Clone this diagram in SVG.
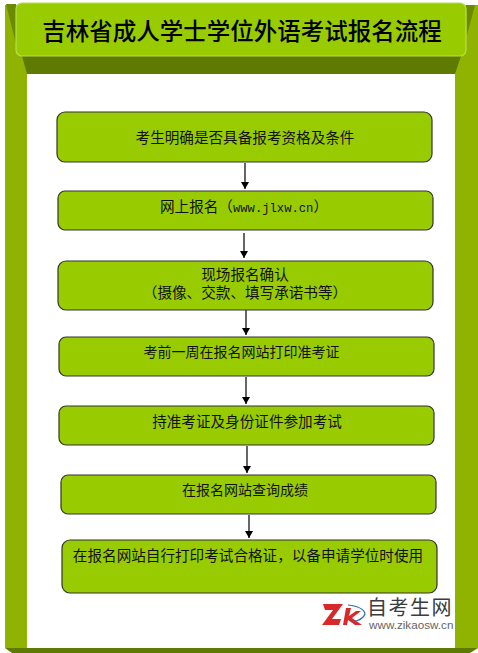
<svg xmlns="http://www.w3.org/2000/svg" width="478" height="653" viewBox="0 0 478 653">
<style>
.box{fill:#99cc00;stroke:#333;stroke-width:1.2}
.t{font-family:"Noto Sans CJK SC","Liberation Sans",sans-serif;font-size:14.6px;fill:#111;text-anchor:middle}
.s{font-size:14px}
.m{font-family:"Liberation Mono",monospace;font-size:12.2px}
.c{stroke:#000;stroke-width:1.2;fill:none;marker-end:url(#a)}
</style>
<defs><marker id="a" markerUnits="userSpaceOnUse" markerWidth="8" markerHeight="8" refX="7" refY="4" orient="auto"><path d="M0 0L7 4L0 8Z" fill="#000"/></marker></defs>
<rect width="478" height="653" fill="#fff"/>
<g id="frame">
<rect x="5" y="5" width="22" height="643" fill="#8fb300"/>
<rect x="455" y="5" width="23" height="643" fill="#8fb300"/>
<path d="M5 648H478L470 653H12Z" fill="#5f7a00"/>
<path d="M6 4H16V44Z" fill="#6b8a00"/>
<path d="M466 5H475L467 35Z" fill="#6b8a00"/>
<path d="M22 56H461L455 74H27Z" fill="#5f7a00"/>
</g>
<g id="title">
<rect x="16" y="3" width="450" height="53" rx="6" fill="#99cc00" stroke="#b9dc50" stroke-width="1.2"/>
<text x="242" y="40" style="font-family:'Noto Sans CJK SC',sans-serif;font-size:23.5px;font-weight:500;fill:#000;text-anchor:middle">吉林省成人学士学位外语考试报名流程</text>
</g>
<g id="connectors">
<path class="c" d="M245 163V189"/>
<path class="c" d="M244 233V258"/>
<path class="c" d="M246 308V335"/>
<path class="c" d="M246 377V404"/>
<path class="c" d="M247 446V473"/>
<path class="c" d="M249 515V538"/>
</g>
<g id="n1"><rect class="box" x="57" y="112" width="375" height="50" rx="8"/><text class="t" x="245" y="143">考生明确是否具备报考资格及条件</text></g>
<g id="n2"><rect class="box" x="58" y="191" width="375" height="39" rx="7"/><text class="t" x="244" y="212">网上报名（<tspan class="m">www.jlxw.cn</tspan>）</text></g>
<g id="n3"><rect class="box" x="58" y="261" width="375" height="49" rx="8"/><text class="t" x="245" y="280">现场报名确认</text><text class="t" x="245" y="298">（摄像、交款、填写承诺书等）</text></g>
<g id="n4"><rect class="box" x="59" y="337" width="375" height="39" rx="7"/><text class="t s" x="241.5" y="357">考前一周在报名网站打印准考证</text></g>
<g id="n5"><rect class="box" x="59" y="406" width="375" height="39" rx="7"/><text class="t" x="247" y="427">持准考证及身份证件参加考试</text></g>
<g id="n6"><rect class="box" x="61" y="475" width="375" height="39" rx="7"/><text class="t s" x="245" y="495">在报名网站查询成绩</text></g>
<g id="n7"><rect class="box" x="62" y="540" width="375" height="53" rx="8"/><text class="t" x="248" y="561">在报名网站自行打印考试合格证，以备申请学位时使用</text></g>
<g id="logo">
<path d="M323 604H343L332 619H341L339 625H322L333 610H325Z" fill="#d9282a"/>
<path d="M346 608H351L349 616L356 611H361L352 618L362 625H355L348 620L347 625H343Z" fill="#d9282a"/>
<path d="M348 605Q364 607 365 614Q363 620 352 622" fill="none" stroke="#2a6fb0" stroke-width="1.2"/>
<text x="367" y="615" style="font-family:'Noto Sans CJK SC',sans-serif;font-size:20px;fill:#3c3c3c;letter-spacing:1.5px">自考生网</text>
<text x="369" y="629" style="font-family:'Liberation Sans',sans-serif;font-size:11.7px;fill:#666">www.zikaosw.cn</text>
</g>
</svg>
